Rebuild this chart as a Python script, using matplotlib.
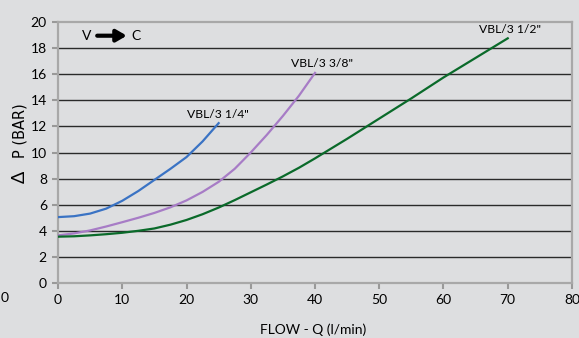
import matplotlib
matplotlib.use("Agg")
import matplotlib.pyplot as plt

# values
x_14 = [0, 2.5, 5, 7.5, 10, 12.5, 15, 17.5, 20, 22.5, 25]
y_14 = [5.05, 5.12, 5.32, 5.7, 6.3, 7.05, 7.9, 8.75, 9.65, 10.85, 12.25]

x_38 = [0, 2.5, 5, 7.5, 10, 12.5, 15, 17.5, 20, 22.5, 25, 27.5, 30, 32.5, 35, 37.5, 40]
y_38 = [3.65, 3.8, 4.03, 4.33, 4.66, 5.0, 5.37, 5.8, 6.33, 6.98, 7.75, 8.75, 10.0,
        11.35, 12.8, 14.35, 16.1]

x_12 = [0, 2.5, 5, 7.5, 10, 12.5, 15, 17.5, 20, 22.5, 25, 27.5, 30, 32.5, 35, 37.5,
        40, 45, 50, 55, 60, 65, 70]
y_12 = [3.55, 3.58, 3.65, 3.74, 3.85, 4.0, 4.18, 4.47, 4.83, 5.27, 5.78, 6.35, 6.95,
        7.55, 8.17, 8.83, 9.55, 11.05, 12.6, 14.15, 15.75, 17.25, 18.75]

x_ticks = [0, 10, 20, 30, 40, 50, 60, 70, 80]
y_ticks = [0, 2, 4, 6, 8, 10, 12, 14, 16, 18, 20]

bg = "#dddee0"
plt.rcParams['font.family'] = ['Lato', 'DejaVu Sans']

fig = plt.figure(figsize=(5.79, 3.38), dpi=100, facecolor=bg)
ax = fig.add_axes([0.1002, 0.1627, 0.8877, 0.7722], facecolor=bg)

for yv in y_ticks[1:-1]:
    ax.axhline(yv, color="#2a2a2a", lw=1.0, zorder=1)

ax.plot(x_14, y_14, color="#3a73c4", lw=1.6, zorder=3)
ax.plot(x_38, y_38, color="#a77cc6", lw=1.6, zorder=3)
ax.plot(x_12, y_12, color="#0a6a2a", lw=1.6, zorder=3)

ax.set_xlim(0, 80)
ax.set_ylim(0, 20)
ax.set_xticks(x_ticks)
ax.set_yticks(y_ticks)
ax.tick_params(colors="#999999", labelcolor="black", width=1.5, length=4,
               labelsize=10, pad=4)
for s in ax.spines.values():
    s.set_color("#a8a8a8")
    s.set_linewidth(1.6)

ax.text(24.9, 12.95, 'VBL/3 1/4"', ha="center", va="center", fontsize=8.7)
ax.text(41.1, 16.8, 'VBL/3 3/8"', ha="center", va="center", fontsize=8.7)
ax.text(70.3, 19.4, 'VBL/3 1/2"', ha="center", va="center", fontsize=8.7)

ax.text(4.5, 18.95, "V", ha="center", va="center", fontsize=10)
ax.text(12.2, 18.95, "C", ha="center", va="center", fontsize=10)
ax.annotate("", xy=(10.7, 18.95), xytext=(6.1, 18.95),
            arrowprops=dict(arrowstyle="-|>,head_length=0.6,head_width=0.35",
                            lw=3, color="black", shrinkA=0, shrinkB=0))

fig.text(0.0345, 0.478, "Δ", rotation=90, ha="center", va="center", fontsize=13)
fig.text(0.0345, 0.614, "P (BAR)", rotation=90, ha="center", va="center",
         fontsize=10.5, family="DejaVu Sans")
fig.text(0.54, 0.024, "FLOW - Q (l/min)", ha="center", va="center", fontsize=10)
fig.text(0.008, 0.118, "0", ha="center", va="center", fontsize=10)

fig.savefig("out.png", dpi=100, facecolor=bg)
